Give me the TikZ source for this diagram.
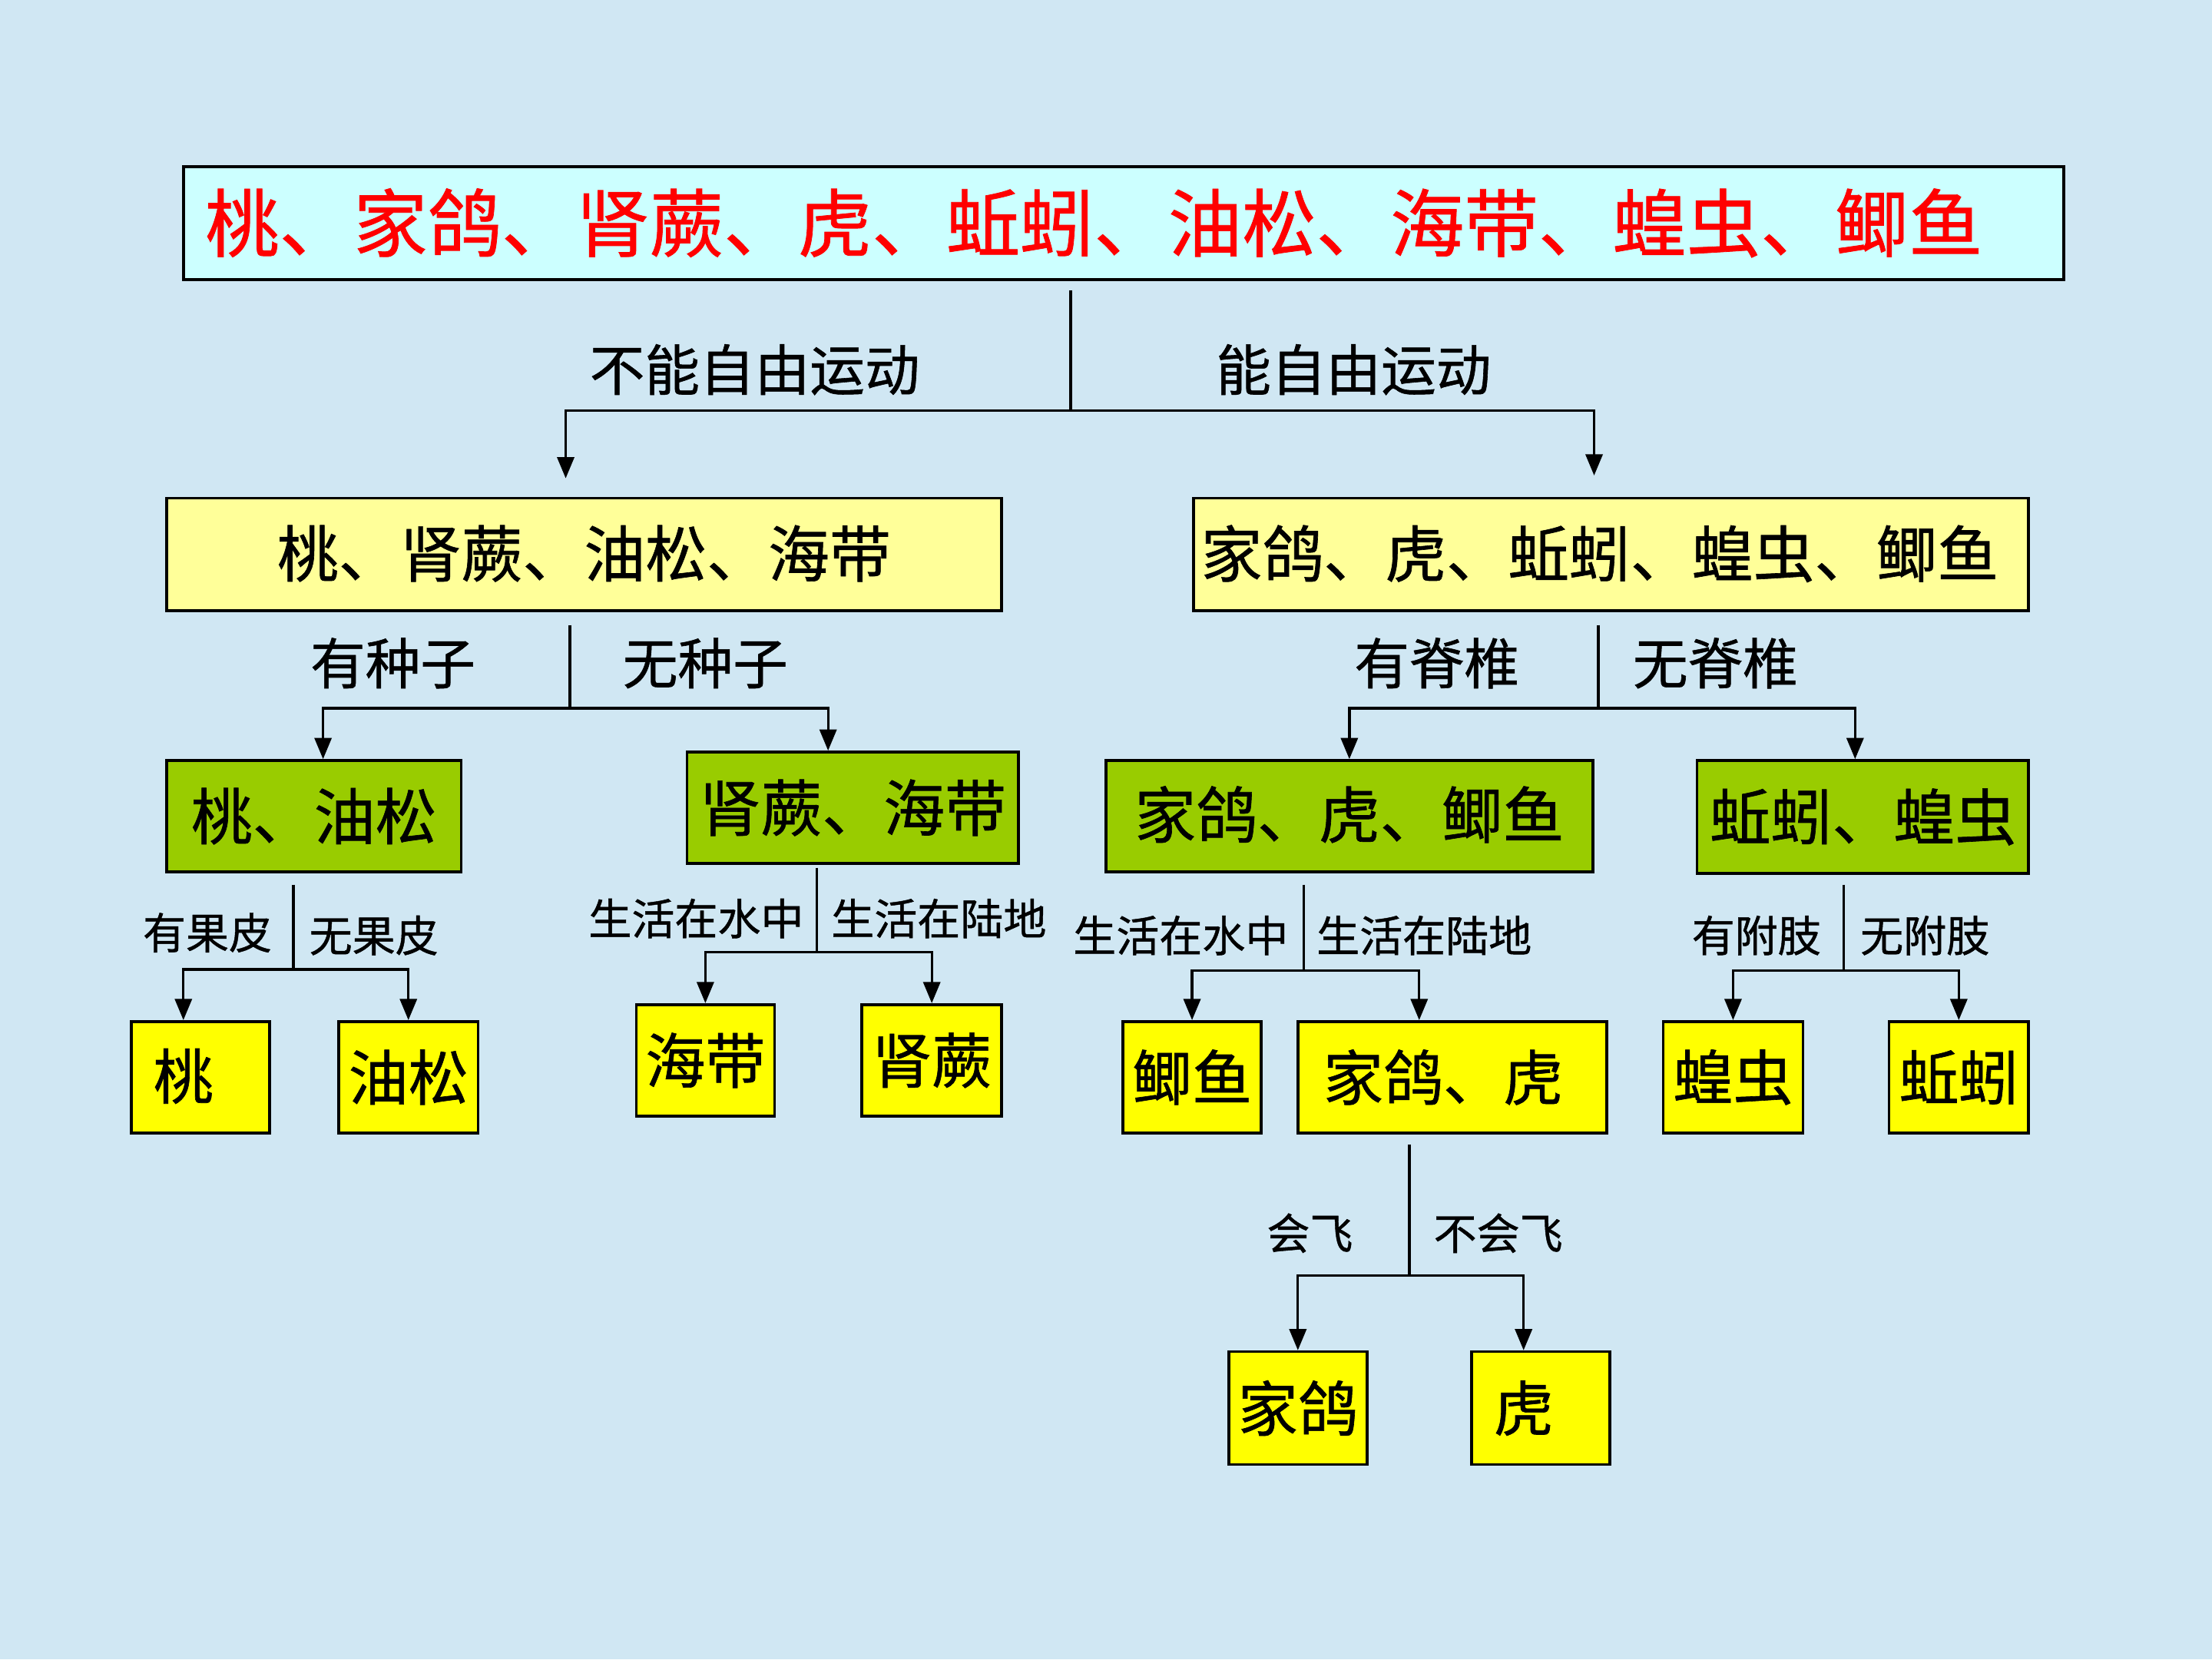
\documentclass[tikz,border=0pt]{standalone}
\usepackage{fontspec}
\newfontfamily\cjk[FakeBold=0.8]{Noto Sans CJK SC}
\usetikzlibrary{arrows.meta,calc}

\definecolor{bg}{RGB}{208,231,243}
\definecolor{rootfill}{RGB}{204,255,255}
\definecolor{paleyellow}{RGB}{255,255,153}
\definecolor{leafgreen}{RGB}{153,204,0}
\definecolor{leafyellow}{RGB}{255,255,0}

\newcommand{\fs}[1]{\cjk\fontsize{#1}{#1}\selectfont}

\begin{document}
\begin{tikzpicture}[x=1pt,y=-1pt,
  box/.style={draw=black,line width=2pt,inner sep=0pt,text=black,anchor=center},
  rootbox/.style={box,fill=rootfill,text=red,font=\fs{52.5}},
  groupbox/.style={box,fill=paleyellow,font=\fs{43.5}},
  greenbox/.style={box,fill=leafgreen,font=\fs{43.5}},
  leafbox/.style={box,fill=leafyellow,font=\fs{42.5}},
  biglabel/.style={inner sep=0pt,font=\fs{39}},
  smalllabel/.style={inner sep=0pt,font=\fs{30.5}},
  link/.style={draw=black,line width=1.8pt},
  arr/.style={link,-{Triangle[length=15pt,width=12pt]}}]

% background
\fill[bg] (0,0) rectangle (1568,1176);
\useasboundingbox (0,0) rectangle (1568,1176);

% root
\node[rootbox,minimum width=1333,minimum height=80] (root) at (796.5,158)
  {\kern-42pt 桃、家鸽、肾蕨、虎、蚯蚓、油松、海带、蝗虫、鲫鱼};

% second level
\node[groupbox,minimum width=592,minimum height=80] (plants) at (414,393)
  {\raisebox{5pt}{桃、肾蕨、油松、海带}};
\node[groupbox,minimum width=592,minimum height=80] (animals) at (1142,393)
  {\raisebox{5pt}{\kern-16pt 家鸽、虎、蚯蚓、蝗虫、鲫鱼}};

% third level
\node[greenbox,minimum width=209,minimum height=79] (seed) at (222.5,578.5) {桃、油松};
\node[greenbox,minimum width=235,minimum height=79] (noseed) at (604.5,572.5) {肾蕨、海带};
\node[greenbox,minimum width=345,minimum height=79] (vert) at (956.5,578.5)
  {\raisebox{6pt}{家鸽、虎、鲫鱼}};
\node[greenbox,minimum width=235,minimum height=80] (invert) at (1320.5,579) {蚯蚓、蝗虫};

% fourth level
\node[leafbox,minimum width=98,minimum height=79] (tao) at (142,763.5)
  {\raisebox{5pt}{\kern-24pt 桃}};
\node[leafbox,minimum width=99,minimum height=79] (pine) at (289.5,763.5) {油松};
\node[leafbox,minimum width=98,minimum height=79] (kelp) at (500,751.5)
  {\raisebox{-5pt}{海带}};
\node[leafbox,minimum width=99,minimum height=79] (fern) at (660.5,751.5) {肾蕨};
\node[leafbox,minimum width=98,minimum height=79] (carp) at (845,763.5) {鲫鱼};
\node[leafbox,minimum width=219,minimum height=79] (land) at (1029.5,763.5)
  {\raisebox{-6pt}{\kern-13pt 家鸽、虎}};
\node[leafbox,minimum width=99,minimum height=79] (locust) at (1228.5,763.5) {蝗虫};
\node[leafbox,minimum width=99,minimum height=79] (worm) at (1388.5,763.5)
  {\raisebox{-6pt}{蚯蚓}};

% fifth level
\node[leafbox,minimum width=98,minimum height=80] (pigeon) at (920,998)
  {\raisebox{-5pt}{家鸽}};
\node[leafbox,minimum width=98,minimum height=80] (tiger) at (1092,998)
  {\raisebox{-5pt}{\kern-24pt 虎}};

% junctions
\coordinate (j0) at (759,291);
\coordinate (j1) at (404,502);
\coordinate (j2) at (1133,502);
\coordinate (j3) at (208,687);
\coordinate (j4) at (579,675);
\coordinate (j5) at (924,688);
\coordinate (j6) at (1307,688);
\coordinate (j7) at (999,904);

% root split
\draw[link] ($(root.south -| j0)+(0,7)$) -- (j0);
\draw[arr,shorten >=13pt] (j0) -| ([xshift=-13pt]plants.north);
\draw[arr,shorten >=15pt] (j0) -| ([xshift=-12pt]animals.north);
\node[biglabel] (l0a) at (535,262) {不能自由运动};
\node[biglabel] (l0b) at (959.5,262) {能自由运动};

% plants split
\draw[link] ($(plants.south -| j1)+(0,9)$) -- (j1);
\draw[arr] (j1) -| ([xshift=6.5pt]seed.north);
\draw[arr] (j1) -| ([xshift=-17.5pt]noseed.north);
\node[biglabel] (l1a) at (278.5,470) {有种子};
\node[biglabel] (l1b) at (500,470) {无种子};

% animals split
\draw[link] ($(animals.south -| j2)+(0,9)$) -- (j2);
\draw[arr] (j2) -| (vert.north);
\draw[arr] (j2) -| ([xshift=-5.5pt]invert.north);
\node[biglabel] (l2a) at (1018.5,470) {有脊椎};
\node[biglabel] (l2b) at (1216,470) {无脊椎};

% seed plants split
\draw[link] ($(seed.south -| j3)+(0,8)$) -- (j3);
\draw[arr] (j3) -| ([xshift=-12pt]tao.north);
\draw[arr] (j3) -| (pine.north);
\node[smalllabel] (l3a) at (147,661) {有果皮};
\node[smalllabel] (l3b) at (265,663) {无果皮};

% seedless plants split
\draw[link] ($(noseed.south -| j4)+(0,2)$) -- (j4);
\draw[arr] (j4) -| (kelp.north);
\draw[arr] (j4) -| (fern.north);
\node[smalllabel] (l4a) at (493.5,651) {生活在水中};
\node[smalllabel] (l4b) at (665.5,651) {生活在陆地};

% vertebrates split
\draw[link] ($(vert.south -| j5)+(0,8)$) -- (j5);
\draw[arr] (j5) -| (carp.north);
\draw[arr] (j5) -| ([xshift=-23.5pt]land.north);
\node[smalllabel] (l5a) at (837,663) {生活在水中};
\node[smalllabel] (l5b) at (1009.5,663) {生活在陆地};

% invertebrates split
\draw[link] ($(invert.south -| j6)+(0,7)$) -- (j6);
\draw[arr] (j6) -| (locust.north);
\draw[arr] (j6) -| (worm.north);
\node[smalllabel] (l6a) at (1245,663) {有附肢};
\node[smalllabel] (l6b) at (1364.5,663) {无附肢};

% land animals split
\draw[link] ($(land.south -| j7)+(0,7)$) -- (j7);
\draw[arr] (j7) -| (pigeon.north);
\draw[arr] (j7) -| ([xshift=-12pt]tiger.north);
\node[smalllabel] (l7a) at (928.5,874) {会飞};
\node[smalllabel] (l7b) at (1062,874) {不会飞};

\end{tikzpicture}
\end{document}
